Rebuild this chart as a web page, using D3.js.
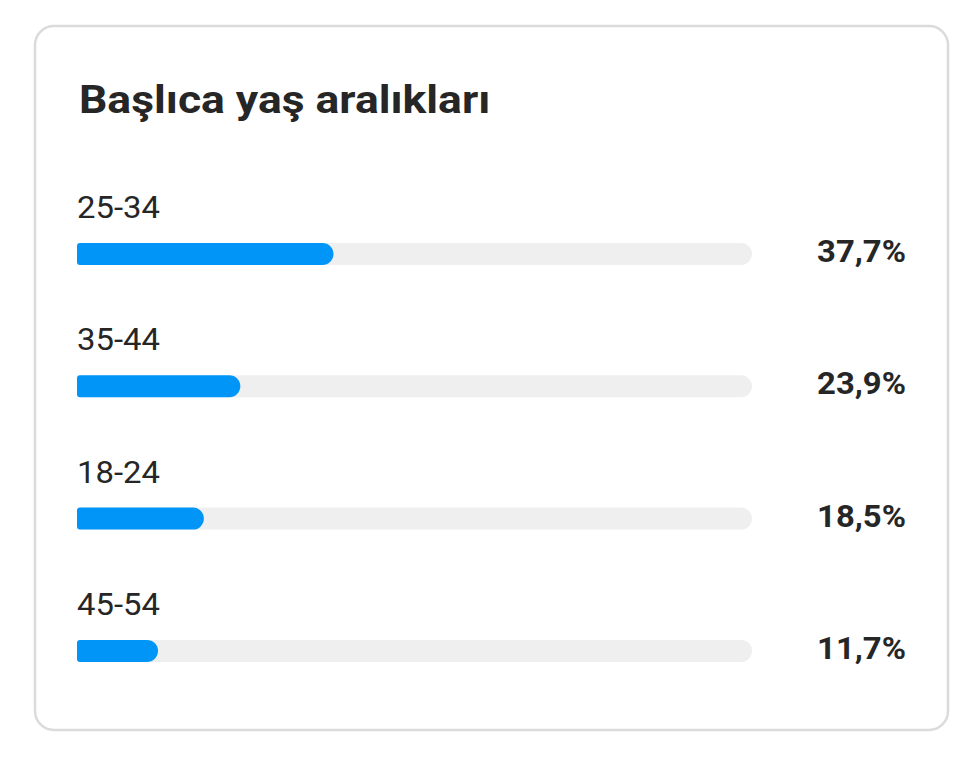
<!DOCTYPE html>
<html>
<head>
<meta charset="utf-8">
<script src="https://cdn.jsdelivr.net/npm/d3@7"></script>
<style>
  html, body { margin: 0; padding: 0; background: #ffffff; }
  svg { display: block; font-family: Roboto, 'Noto Sans', sans-serif; }
</style>
</head>
<body>
<div id="chart"></div>
<script>
const title = 'Başlıca yaş aralıkları'
const ageGroups = ['25-34', '35-44', '18-24', '45-54']
const shares = [37.7, 23.9, 18.5, 11.7]
const valueLabels = ['37,7%', '23,9%', '18,5%', '11,7%']

const width = 975
const height = 758
const barHeight = 22

const svg = d3.select('#chart')
  .append('svg')
  .attr('width', width)
  .attr('height', height)

// card
svg.append('rect')
  .attr('x', 35)
  .attr('y', 26)
  .attr('width', 913)
  .attr('height', 704)
  .attr('rx', 19)
  .attr('fill', '#ffffff')
  .attr('stroke', '#dbdbdb')
  .attr('stroke-width', 2.5)

// the reference type is a little wider than Roboto, so stretch it horizontally
svg.append('text')
  .attr('transform', 'translate(79, 113) scale(1.17, 1)')
  .attr('font-size', 38)
  .attr('font-weight', 700)
  .attr('fill', '#262626')
  .text(title)

let x = d3.scaleLinear()
  .domain([0, 100])
  .range([77, 752])

let y = d3.scaleBand()
  .domain(ageGroups)
  .range([243, 243 + 132.3 * ageGroups.length])

// bar with small left radius and round right end
function barPath(x0, x1, y0, h) {
  let rl = 3
  let rr = Math.min(h / 2, (x1 - x0) / 2)
  return `M${x0 + rl},${y0}` +
    `H${x1 - rr}` +
    `A${rr},${rr} 0 0 1 ${x1},${y0 + rr}` +
    `V${y0 + h - rr}` +
    `A${rr},${rr} 0 0 1 ${x1 - rr},${y0 + h}` +
    `H${x0 + rl}` +
    `A${rl},${rl} 0 0 1 ${x0},${y0 + h - rl}` +
    `V${y0 + rl}` +
    `A${rl},${rl} 0 0 1 ${x0 + rl},${y0}Z`
}

let rows = svg.selectAll('.row')
  .data(ageGroups.map(function(d, i) { return {name: d, value: shares[i], label: valueLabels[i]} }))
  .enter()
  .append('g')
  .attr('class', 'row')
  .attr('transform', function(d) { return `translate(0, ${y(d.name)})` })

rows.append('text')
  .attr('transform', 'translate(77, -25) scale(1.06, 1)')
  .attr('font-size', 31)
  .attr('fill', '#262626')
  .text(function(d) { return d.name })

rows.append('path')
  .attr('class', 'track')
  .attr('d', barPath(x(0), x(100), 0, barHeight))
  .attr('fill', '#efefef')

rows.append('path')
  .attr('class', 'bar')
  .attr('d', function(d) { return barPath(x(0), x(d.value) + 2, 0, barHeight) })
  .attr('fill', '#0095f6')

rows.append('text')
  .attr('transform', 'translate(906, 19) scale(1.06, 1)')
  .attr('text-anchor', 'end')
  .attr('font-size', 31)
  .attr('font-weight', 700)
  .attr('fill', '#262626')
  .text(function(d) { return d.label })
</script>
</body>
</html>
